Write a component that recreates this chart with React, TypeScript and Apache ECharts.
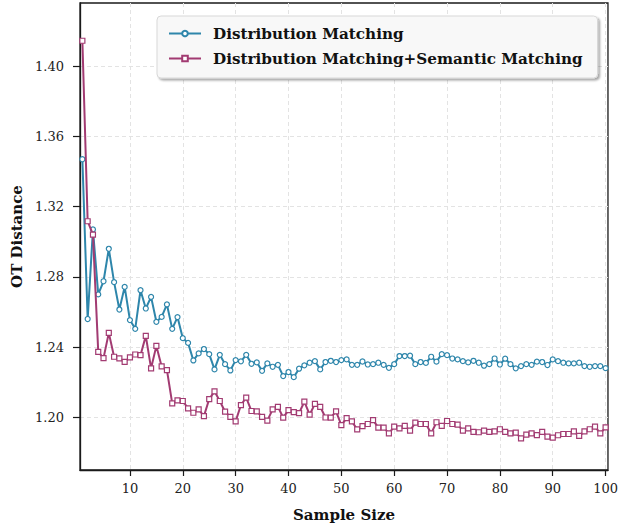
import React, { useEffect, useRef } from "react";
import * as echarts from "echarts";

const sampleSizes: number[] = Array.from({ length: 100 }, (_, i) => i + 1);

const distMatching: number[] = [
  1.347, 1.256, 1.307, 1.270, 1.2775, 1.296, 1.277, 1.2614, 1.2743, 1.2554,
  1.2504, 1.2724, 1.262, 1.2686, 1.2544, 1.2572, 1.2643, 1.2504, 1.2571, 1.2451,
  1.2424, 1.2324, 1.2364, 1.2389, 1.236, 1.2273, 1.2356, 1.2303, 1.2267, 1.2326,
  1.2319, 1.2356, 1.2305, 1.2313, 1.2265, 1.2307, 1.2288, 1.2299, 1.2235, 1.2258,
  1.2229, 1.2277, 1.2296, 1.2311, 1.232, 1.2273, 1.2315, 1.2322, 1.2315, 1.2326,
  1.233, 1.2299, 1.2299, 1.2318, 1.2301, 1.2303, 1.2311, 1.2299, 1.2282, 1.2303,
  1.2349, 1.2349, 1.2351, 1.2303, 1.2315, 1.231, 1.2345, 1.2317, 1.236, 1.2354,
  1.2335, 1.233, 1.232, 1.2313, 1.2322, 1.2311, 1.2294, 1.2303, 1.2335, 1.2301,
  1.2334, 1.2303, 1.2279, 1.2292, 1.2303, 1.2299, 1.2317, 1.2315, 1.2298, 1.233,
  1.232, 1.2311, 1.2307, 1.2307, 1.2311, 1.2292, 1.2288, 1.2292, 1.2292, 1.228,
];

const distSemMatching: number[] = [
  1.4145, 1.3117, 1.3041, 1.2373, 1.2337, 1.2481, 1.2345, 1.2336, 1.2316, 1.2341,
  1.2358, 1.2354, 1.2464, 1.2279, 1.2407, 1.229, 1.2269, 1.208, 1.2097, 1.2093,
  1.2051, 1.2026, 1.2045, 1.2007, 1.2104, 1.2148, 1.2093, 1.2032, 1.2003, 1.1977,
  1.207, 1.2112, 1.2036, 1.2034, 1.2003, 1.1981, 1.2045, 1.206, 1.1998, 1.2041,
  1.203, 1.2024, 1.2089, 1.2015, 1.2077, 1.206, 1.1999, 1.1998, 1.2034, 1.1956,
  1.1996, 1.1977, 1.1931, 1.195, 1.1962, 1.1984, 1.1941, 1.1941, 1.1909, 1.1947,
  1.1937, 1.1951, 1.1924, 1.197, 1.1962, 1.1962, 1.1909, 1.1972, 1.1951, 1.1979,
  1.1962, 1.1958, 1.1924, 1.1937, 1.1917, 1.1915, 1.1924, 1.1917, 1.192, 1.1932,
  1.1917, 1.1909, 1.1913, 1.188, 1.1901, 1.1909, 1.1899, 1.1917, 1.189, 1.1884,
  1.1898, 1.1905, 1.1905, 1.192, 1.1894, 1.192, 1.1932, 1.1947, 1.1909, 1.1943,
];

const xTicks: number[] = [10, 20, 30, 40, 50, 60, 70, 80, 90, 100];
const yTicks: number[] = [1.2, 1.24, 1.28, 1.32, 1.36, 1.4];

const seriesNames: string[] = [
  "Distribution Matching",
  "Distribution Matching+Semantic Matching",
];

const FONT = "DejaVu Serif";
const BLUE = "#2E86AB";
const MAGENTA = "#A23B72";

export default function App() {
  const ref = useRef<HTMLDivElement>(null);
  useEffect(() => {
    if (!ref.current) return;
    const chart = echarts.init(ref.current, undefined, { renderer: "svg" });
    const gridLine = { show: true, lineStyle: { color: "#e3e3e3", type: [4, 3] as any, width: 1 } };
    chart.setOption({
      animation: false,
      backgroundColor: "#ffffff",
      grid: {
        left: 80,
        right: 13,
        top: 3,
        bottom: 57,
        show: true,
        borderColor: "#1a1a1a",
        borderWidth: 1.3,
        backgroundColor: "transparent",
      },
      legend: {
        show: true,
        orient: "vertical",
        left: 157,
        top: 16,
        data: seriesNames,
        itemWidth: 32,
        itemHeight: 7,
        itemGap: 10,
        padding: [10, 15, 12, 11],
        backgroundColor: "#f8f8f8",
        borderColor: "#d8d8d8",
        borderWidth: 1,
        borderRadius: 4,
        shadowColor: "rgba(0,0,0,0.35)",
        shadowOffsetX: 2,
        shadowOffsetY: 2,
        shadowBlur: 2,
        textStyle: {
          fontFamily: FONT,
          fontWeight: "bold",
          fontSize: 15.2,
          color: "#111",
          padding: [0, 0, 0, 7],
        },
      },
      xAxis: {
        type: "value",
        min: 0.55,
        max: 100.45,
        name: "Sample Size",
        nameLocation: "middle",
        nameGap: 37,
        nameTextStyle: { fontFamily: FONT, fontWeight: "bold", fontSize: 15, color: "#111" },
        axisLine: { show: true, onZero: false, lineStyle: { color: "#1a1a1a", width: 1.3 } },
        axisTick: { show: true, length: 6, customValues: xTicks, lineStyle: { color: "#1a1a1a", width: 1.2 } },
        axisLabel: {
          customValues: xTicks,
          margin: 12,
          fontFamily: FONT,
          fontSize: 13,
          color: "#222",
        },
        splitLine: gridLine,
      },
      yAxis: {
        type: "value",
        min: 1.17,
        max: 1.436,
        name: "OT Distance",
        nameLocation: "middle",
        nameGap: 56,
        nameTextStyle: { fontFamily: FONT, fontWeight: "bold", fontSize: 15, color: "#111" },
        axisLine: { show: true, onZero: false, lineStyle: { color: "#1a1a1a", width: 1.3 } },
        axisTick: { show: true, length: 7, customValues: yTicks, lineStyle: { color: "#1a1a1a", width: 1.2 } },
        axisLabel: {
          customValues: yTicks,
          margin: 16,
          fontFamily: FONT,
          fontSize: 13,
          color: "#222",
          formatter: (v: number) => v.toFixed(2),
        },
        splitLine: gridLine,
      },
      series: [
        {
          name: seriesNames[0],
          type: "line",
          data: sampleSizes.map((x, i) => [x, distMatching[i]]),
          symbol: "circle",
          symbolSize: 5,
          showAllSymbol: true,
          lineStyle: { color: BLUE, width: 2 },
          itemStyle: { color: "#ffffff", borderColor: BLUE, borderWidth: 1.2 },
          z: 3,
        },
        {
          name: seriesNames[1],
          type: "line",
          data: sampleSizes.map((x, i) => [x, distSemMatching[i]]),
          symbol: "rect",
          symbolSize: 5,
          showAllSymbol: true,
          lineStyle: { color: MAGENTA, width: 2 },
          itemStyle: { color: "#ffffff", borderColor: MAGENTA, borderWidth: 1.2 },
          z: 4,
        },
      ],
    });
    return () => chart.dispose();
  }, []);
  return (
    <div
      ref={ref}
      style={{ position: "fixed", left: 0, top: 0, width: 621, height: 527, background: "#fff" }}
    />
  );
}
